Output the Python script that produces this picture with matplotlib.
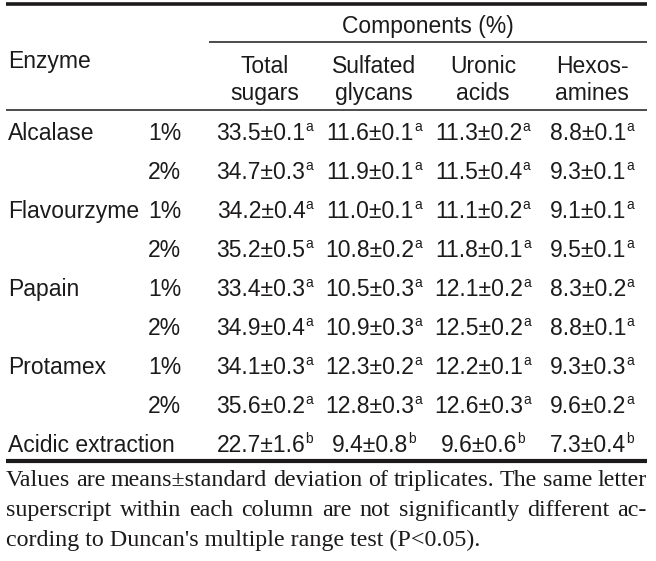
import matplotlib
matplotlib.use("Agg")
import matplotlib.pyplot as plt

# ---------------- data ----------------
enzymes = ["Alcalase", "", "Flavourzyme", "", "Papain", "", "Protamex", "", "Acidic extraction"]
doses = ["1%", "2%", "1%", "2%", "1%", "2%", "1%", "2%", ""]
col_headers = [("Total", "sugars"), ("Sulfated", "glycans"), ("Uronic", "acids"), ("Hexos-", "amines")]
total_sugars = ["33.5±0.1", "34.7±0.3", "34.2±0.4", "35.2±0.5", "33.4±0.3", "34.9±0.4", "34.1±0.3", "35.6±0.2", "22.7±1.6"]
sulfated_glycans = ["11.6±0.1", "11.9±0.1", "11.0±0.1", "10.8±0.2", "10.5±0.3", "10.9±0.3", "12.3±0.2", "12.8±0.3", "9.4±0.8"]
uronic_acids = ["11.3±0.2", "11.5±0.4", "11.1±0.2", "11.8±0.1", "12.1±0.2", "12.5±0.2", "12.2±0.1", "12.6±0.3", "9.6±0.6"]
hexosamines = ["8.8±0.1", "9.3±0.1", "9.1±0.1", "9.5±0.1", "8.3±0.2", "8.8±0.1", "9.3±0.3", "9.6±0.2", "7.3±0.4"]
letters = ["a", "a", "a", "a", "a", "a", "a", "a", "b"]
footnote = ["Values are means±standard deviation of triplicates. The same letter",
            "superscript within each column are not significantly different ac-",
            "cording to Duncan's multiple range test (P<0.05)."]

# ---------------- layout ----------------
W, H = 656, 561
fig = plt.figure(figsize=(W / 100, H / 100), dpi=100)
ax = fig.add_axes([0, 0, 1, 1])
ax.set_xlim(0, W)
ax.set_ylim(H, 0)
ax.axis("off")

SANS = "Liberation Sans"
SERIF = "Liberation Serif"
FS = 16.5
COL = "#1c1a1b"

x_left, x_right = 6, 647
col_x = [265, 374, 483, 592]

# rules
ax.plot([x_left, x_right], [4, 4], color=COL, lw=2.6, solid_capstyle="butt")
ax.plot([209, x_right], [42, 42], color=COL, lw=1.1, solid_capstyle="butt")
ax.plot([x_left, x_right], [110, 110], color=COL, lw=1.1, solid_capstyle="butt")
ax.plot([x_left, x_right], [461, 461], color=COL, lw=3.0, solid_capstyle="butt")

# headers
ax.text(428, 33, "Components (%)", family=SANS, fontsize=FS, color=COL, ha="center", va="baseline")
ax.text(8, 68, "Enzyme", family=SANS, fontsize=FS, color=COL, ha="left", va="baseline")
for cx, (l1, l2) in zip(col_x, col_headers):
    ax.text(cx, 73, l1, family=SANS, fontsize=FS, color=COL, ha="center", va="baseline")
    ax.text(cx, 100, l2, family=SANS, fontsize=FS, color=COL, ha="center", va="baseline")

fig.canvas.draw()
r = fig.canvas.get_renderer()

def width(t):
    return t.get_window_extent(renderer=r).width

columns = [total_sugars, sulfated_glycans, uronic_acids, hexosamines]
row_y0, row_dy = 140, 39
for i in range(len(enzymes)):
    y = row_y0 + i * row_dy
    if enzymes[i]:
        ax.text(8, y, enzymes[i], family=SANS, fontsize=FS, color=COL, ha="left", va="baseline")
    if doses[i]:
        ax.text(181, y, doses[i], family=SANS, fontsize=FS, color=COL, ha="right", va="baseline")
    for cx, colvals in zip(col_x, columns):
        t = ax.text(0, y, colvals[i], family=SANS, fontsize=FS, color=COL, ha="left", va="baseline")
        s = ax.text(0, y - 9.5, letters[i], family=SANS, fontsize=10, color=COL, ha="left", va="baseline")
        wm, ws = width(t), width(s)
        gap = 0.2
        x0 = cx - (wm + ws + gap) / 2
        t.set_x(x0)
        s.set_x(x0 + wm + gap)

# footnote (justified)
FFS = 17.3
foot_y = [486, 516, 546]
for k, line in enumerate(footnote):
    y = foot_y[k]
    if k < len(footnote) - 1:
        words = line.split(" ")
        ts = [ax.text(0, y, w, family=SERIF, fontsize=FFS, color=COL, ha="left", va="baseline") for w in words]
        ws = [width(t) for t in ts]
        gap = (x_right - x_left - sum(ws)) / (len(words) - 1)
        x = x_left
        for t, w in zip(ts, ws):
            t.set_x(x)
            x += w + gap
    else:
        ax.text(x_left, y, line, family=SERIF, fontsize=FFS, color=COL, ha="left", va="baseline")

fig.savefig("out.png", dpi=100)
